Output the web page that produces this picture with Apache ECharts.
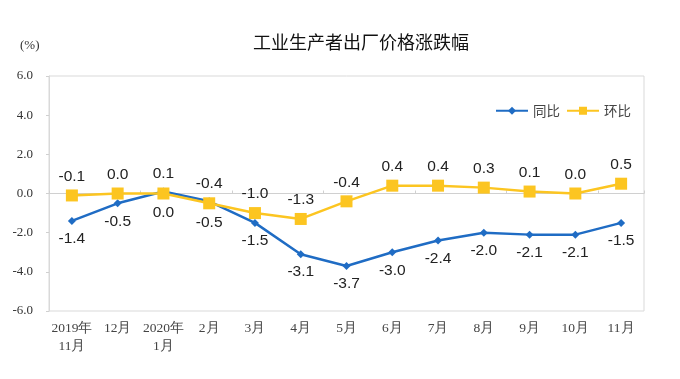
<!DOCTYPE html>
<html><head><meta charset="utf-8">
<script src="https://cdn.jsdelivr.net/npm/echarts@6/dist/echarts.min.js"></script>
<style>html,body{margin:0;padding:0;background:#fff}#c{width:680px;height:379px}</style>
</head><body><div id="c"></div>
<script>
const categories = ['2019年\n11月','12月','2020年\n1月','2月','3月','4月','5月','6月','7月','8月','9月','10月','11月'];
const yoy = [-1.4,-0.5,0.1,-0.4,-1.5,-3.1,-3.7,-3.0,-2.4,-2.0,-2.1,-2.1,-1.5];
const mom = [-0.1,0.0,0.0,-0.5,-1.0,-1.3,-0.4,0.4,0.4,0.3,0.1,0.0,0.5];
const yoyLabelTop = [2,3];
const momLabelBottom = [2,3];

const blue = '#1f6cc4', yellow = '#fcc521';
const chart = echarts.init(document.getElementById('c'));
const lblBase = {show:true, fontFamily:'"Liberation Sans", Arial, sans-serif', fontSize:15.5, color:'#222', formatter: p => Number(p.value).toFixed(1)};
chart.setOption({
  animation:false,
  title:{text:'工业生产者出厂价格涨跌幅', left:356, textAlign:'center', top:28,
    textStyle:{fontFamily:'"Noto Sans CJK SC", sans-serif', fontSize:18, fontWeight:'normal', color:'#111'}},
  graphic:[{type:'text', left:20, top:39, style:{text:'(%)', fontFamily:'"Liberation Serif", serif', fontSize:13, fill:'#333'}}],
  legend:{right:44, top:99, itemWidth:32, itemHeight:10, itemGap:6,
    textStyle:{fontFamily:'"Noto Sans CJK SC", sans-serif', fontSize:13.5, color:'#444'},
    data:['同比','环比']},
  grid:{left:49, right:36, top:76, bottom:68, show:true, borderColor:'#d9d9d9', borderWidth:1},
  xAxis:[
    {type:'category', data:categories, boundaryGap:true,
     axisLine:{show:true, onZero:true, lineStyle:{color:'#d0d0d0'}},
     axisTick:{show:true, inside:true, length:3, lineStyle:{color:'#d0d0d0'}},
     axisLabel:{show:false}},
    {type:'category', data:categories, boundaryGap:true, position:'bottom',
     axisLine:{show:false, onZero:false}, axisTick:{show:false},
     axisLabel:{show:true, interval:0, margin:8, lineHeight:18, fontFamily:'"Liberation Serif", serif', fontSize:13.5, color:'#444'}}
  ],
  yAxis:{type:'value', min:-6, max:6, interval:2,
    axisLine:{show:true, lineStyle:{color:'#d9d9d9'}},
    axisTick:{show:true, length:3, lineStyle:{color:'#d0d0d0'}},
    splitLine:{show:false},
    axisLabel:{margin:16, formatter:v=>v.toFixed(1), fontFamily:'"Liberation Serif", serif', fontSize:13, color:'#333'}},
  series:[
    {name:'同比', type:'line', xAxisIndex:0, symbol:'diamond', symbolSize:8,
     itemStyle:{color:blue}, lineStyle:{color:blue, width:2.5},
     label:Object.assign({}, lblBase, {position:'bottom', distance:6}),
     data: yoy.map((v,i)=> yoyLabelTop.includes(i) ? {value:v, label:{position:'top'}} : v)},
    {name:'环比', type:'line', xAxisIndex:0, symbol:'rect', symbolSize:12,
     itemStyle:{color:yellow}, lineStyle:{color:yellow, width:2.5},
     label:Object.assign({}, lblBase, {position:'top', distance:5}),
     data: mom.map((v,i)=> momLabelBottom.includes(i) ? {value:v, label:{position:'bottom'}} : v)}
  ]
});
</script></body></html>
